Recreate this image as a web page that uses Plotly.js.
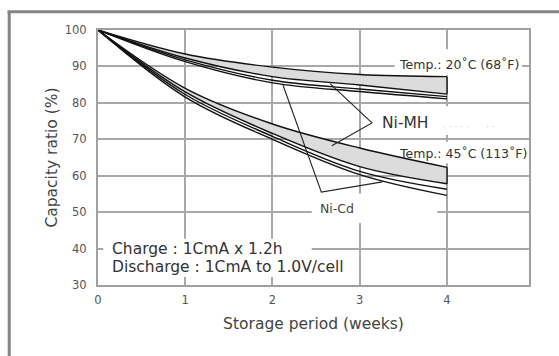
<!DOCTYPE html>
<html>
<head>
<meta charset="utf-8">
<script src="https://cdn.plot.ly/plotly-3.0.1.min.js"></script>
<style>html,body{margin:0;padding:0;background:#fff;}#chart{width:559px;height:356px;}</style>
</head>
<body>
<div id="chart"></div>
<script>
// ---- data ----
const weeks = [0, 1, 2, 3, 4];
const xTickLabels = ['0', '1', '2', '3', '4'];
const yTickVals = [30, 40, 50, 60, 70, 80, 90, 100];
const yTickLabels = ['30', '40', '50', '60', '70', '80', '90', '100'];

// 20°C (68°F)
const niMh20Upper = [100, 93.4, 89.8, 87.8, 87.2];
const niMh20Lower = [100, 92.3, 87.2, 84.9, 82.4];
const niCd20A     = [100, 91.8, 86.2, 83.8, 81.7];
const niCd20B     = [100, 91.3, 85.5, 83.1, 81.1];

// 45°C (113°F)
const niMh45Upper = [100, 84.0, 74.2, 67.6, 62.3];
const niMh45Lower = [100, 83.0, 71.6, 62.5, 57.8];
const niCd45A     = [100, 82.3, 70.8, 61.2, 56.3];
const niCd45B     = [100, 81.6, 70.0, 60.3, 54.6];

// leader lines for the labels (weeks, %)
const niCdLeaderX = [2.12, 2.56, 3.26];
const niCdLeaderY = [84.9, 55.5, 58.3];
const niMhLeaderX = [2.66, 3.14, 2.68];
const niMhLeaderY = [85.3, 74.5, 68.2];

// ---- styling ----
const FONT = 'DejaVu Sans, Arial, sans-serif';
const curveLine = {color: '#111', width: 1.4, shape: 'spline', smoothing: 1};
const bandFill = '#dcdcdc';

function line(x, y, extra) {
  return Object.assign({x: x, y: y, type: 'scatter', mode: 'lines', line: curveLine, hoverinfo: 'skip', showlegend: false}, extra || {});
}
const last = weeks.length - 1;
const traces = [
  line(weeks, niMh20Upper),
  line(weeks, niMh20Lower, {fill: 'tonexty', fillcolor: bandFill}),
  line([weeks[last], weeks[last]], [niMh20Upper[last], niMh20Lower[last]], {line: {color: '#111', width: 1.4}}),
  line(weeks, niCd20A),
  line(weeks, niCd20B),
  line(weeks, niMh45Upper),
  line(weeks, niMh45Lower, {fill: 'tonexty', fillcolor: bandFill}),
  line([weeks[last], weeks[last]], [niMh45Upper[last], niMh45Lower[last]], {line: {color: '#111', width: 1.4}}),
  line(weeks, niCd45A),
  line(weeks, niCd45B),
  line(niCdLeaderX, niCdLeaderY, {line: {color: '#222', width: 1.1}}),
  line(niMhLeaderX, niMhLeaderY, {line: {color: '#222', width: 1.1}})
];

function whiteBox(x0, x1, y0, y1) {
  return {type: 'rect', xref: 'x', yref: 'y', x0: x0, x1: x1, y0: y0, y1: y1,
          fillcolor: '#fff', line: {width: 0}, layer: 'between'};
}
function label(text, x, y, size, color) {
  return {text: text, x: x, y: y, xref: 'x', yref: 'y', xanchor: 'left', yanchor: 'middle',
          showarrow: false, font: {family: FONT, size: size, color: color || '#333'}};
}
const frameLine = {color: '#858585', width: 3};

const layout = {
  width: 559, height: 356,
  margin: {l: 98, r: 30, t: 30, b: 71, pad: 0},
  paper_bgcolor: '#fff', plot_bgcolor: '#fff',
  showlegend: false,
  xaxis: {
    range: [0, 4.94], tickvals: weeks, ticktext: xTickLabels,
    showgrid: true, gridcolor: '#a8a8a8', gridwidth: 2, zeroline: false,
    showline: true, mirror: true, linecolor: '#a0a0a0', linewidth: 2,
    ticks: '', ticklabelstandoff: 3,
    tickfont: {family: FONT, size: 11.5, color: '#555'},
    title: {text: 'Storage period (weeks)', font: {family: FONT, size: 15.5, color: '#444'}, standoff: 12}
  },
  yaxis: {
    range: [30, 100], tickvals: yTickVals, ticktext: yTickLabels,
    showgrid: true, gridcolor: '#a8a8a8', gridwidth: 2, zeroline: false,
    showline: true, mirror: true, linecolor: '#a0a0a0', linewidth: 2,
    ticks: '', ticklabelstandoff: 7,
    tickfont: {family: FONT, size: 11.5, color: '#555'},
    title: {text: 'Capacity ratio (%)', font: {family: FONT, size: 15.5, color: '#444'}, standoff: 3}
  },
  shapes: [
    whiteBox(3.40, 4.86, 87.6, 94.7),
    whiteBox(3.17, 4.89, 71.2, 79.1),
    whiteBox(3.40, 4.92, 63.4, 69.3),
    whiteBox(2.45, 3.89, 47.0, 55.1),
    whiteBox(0.06, 2.45, 32.2, 42.7),
    {type: 'line', xref: 'paper', yref: 'paper', x0: -0.206, x1: -0.206, y0: -0.4, y1: 1.072, line: frameLine, layer: 'above'},
    {type: 'line', xref: 'paper', yref: 'paper', x0: -0.21, x1: 1.2, y0: 1.072, y1: 1.072, line: frameLine, layer: 'above'}
  ],
  annotations: [
    label('Temp.: 20\u02DAC (68\u02DAF)', 3.43, 90.6, 12.5),
    label('Ni-MH', 3.23, 74.5, 15.5),
    label('\u00B7 \u00B7 \u00B7 \u00B7 \u00B7      \u00B7 \u00B7', 3.93, 73.4, 9, '#c8c8c8'),
    label('Temp.: 45\u02DAC (113\u02DAF)', 3.43, 66.0, 12.5),
    label('Ni-Cd', 2.52, 51.1, 12.5, '#444'),
    label('Charge : 1CmA x 1.2h', 0.14, 39.8, 15.5),
    label('Discharge : 1CmA to 1.0V/cell', 0.14, 35.0, 15.5)
  ]
};

Plotly.newPlot('chart', traces, layout, {staticPlot: true, displayModeBar: false});
</script>
</body>
</html>
